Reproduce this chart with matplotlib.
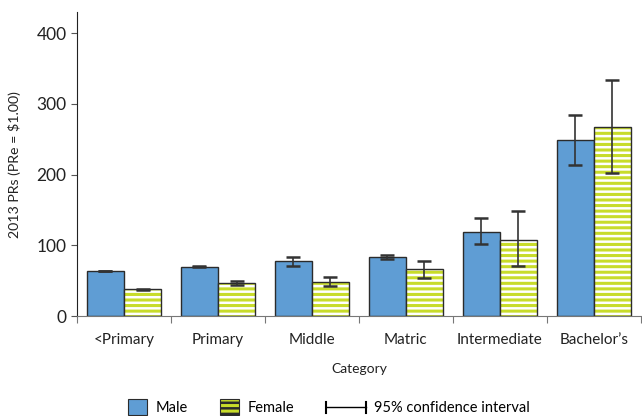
import numpy as np
import matplotlib
matplotlib.use("Agg")
import matplotlib.pyplot as plt
from matplotlib.patches import Patch
from matplotlib.lines import Line2D

plt.rcParams['font.family'] = ['Lato', 'DejaVu Sans']
plt.rcParams['hatch.linewidth'] = 1.8

categories = ["<Primary", "Primary", "Middle", "Matric", "Intermediate", "Bachelor\u2019s"]
male = [63.6, 70.2, 78.7, 83.4, 119.7, 249.7]
male_lo = [63.6, 69.0, 71.5, 80.6, 102.2, 214.0]
male_hi = [63.6, 71.2, 84.0, 86.7, 139.0, 284.6]
female = [37.7, 46.2, 47.6, 66.0, 107.4, 268.1]
female_lo = [37.0, 43.4, 42.4, 54.2, 71.1, 202.1]
female_hi = [38.5, 50.0, 56.0, 78.2, 148.4, 333.6]

male_col = "#5f9dd4"
female_col = "#c8dc2a"
edge = "#2b2b2b"


class CIHandler:
    # horizontal line with end caps, wider than the patch handles
    def legend_artist(self, legend, orig_handle, fontsize, handlebox):
        wd = 2.7 * fontsize
        handlebox.width = wd
        y = handlebox.height / 2 - handlebox.ydescent
        h = 0.35 * fontsize
        line = Line2D([0, wd], [y, y], color="black", lw=1.0)
        c1 = Line2D([0, 0], [y - h, y + h], color="black", lw=1.5)
        c2 = Line2D([wd, wd], [y - h, y + h], color="black", lw=1.5)
        for a in (line, c1, c2):
            handlebox.add_artist(a)
        return line


fig = plt.figure(figsize=(6.42, 4.16), dpi=100)
ax = fig.add_axes([0.12, 0.24, 0.878, 0.731])

x = np.arange(len(categories))
w = 0.395

ax.bar(x - w / 2, male, w, color=male_col, edgecolor=edge, linewidth=1.0, zorder=2)
# striped female bars: hatch first, outline on top
ax.bar(x + w / 2, female, w, color=female_col, edgecolor="white", hatch="---", linewidth=0, zorder=2)
ax.bar(x + w / 2, female, w, fill=False, edgecolor=edge, linewidth=1.0, zorder=3)

m = np.array(male)
f = np.array(female)
ax.errorbar(x - w / 2, m, yerr=[m - np.array(male_lo), np.array(male_hi) - m],
            fmt="none", ecolor="#333333", elinewidth=1.2, capsize=5, capthick=1.8, zorder=4)
ax.errorbar(x + w / 2, f, yerr=[f - np.array(female_lo), np.array(female_hi) - f],
            fmt="none", ecolor="#333333", elinewidth=1.2, capsize=5, capthick=1.8, zorder=4)

ax.set_xlim(-0.5, len(categories) - 0.5)
ax.set_ylim(0, 430)
ax.set_yticks([0, 100, 200, 300, 400])
ax.tick_params(axis="y", labelsize=12.5, length=4, color="#555555", labelcolor="#222222")

ax.set_xticks(np.arange(len(categories) + 1) - 0.5)
ax.set_xticklabels([])
ax.set_xticks(x, minor=True)
ax.set_xticklabels(categories, minor=True, fontsize=11, color="#222222")
ax.tick_params(axis="x", which="major", length=5, color="#777777")
ax.tick_params(axis="x", which="minor", length=0, pad=12)

ax.spines["top"].set_visible(False)
ax.spines["right"].set_visible(False)
ax.spines["left"].set_color("#222222")
ax.spines["bottom"].set_color("#777777")

ax.set_ylabel("2013 PRs (PRe = $1.00)", fontsize=10.2, color="#222222", labelpad=11)
ax.set_xlabel("Category", fontsize=10, color="#222222", labelpad=12)

handles = [Patch(facecolor=male_col, edgecolor=edge, linewidth=0.8),
           Patch(facecolor=female_col, edgecolor=edge, hatch="---", linewidth=0.8),
           "ci"]
fig.legend(handles, ["Male", "Female", "95% confidence interval"],
           handler_map={str: CIHandler()},
           loc="lower center", bbox_to_anchor=(0.5125, -0.03), ncol=3, frameon=False,
           fontsize=10.5, handlelength=1.3, handleheight=1.3, handletextpad=0.6,
           columnspacing=2.2)

fig.savefig("out.png", dpi=100)
